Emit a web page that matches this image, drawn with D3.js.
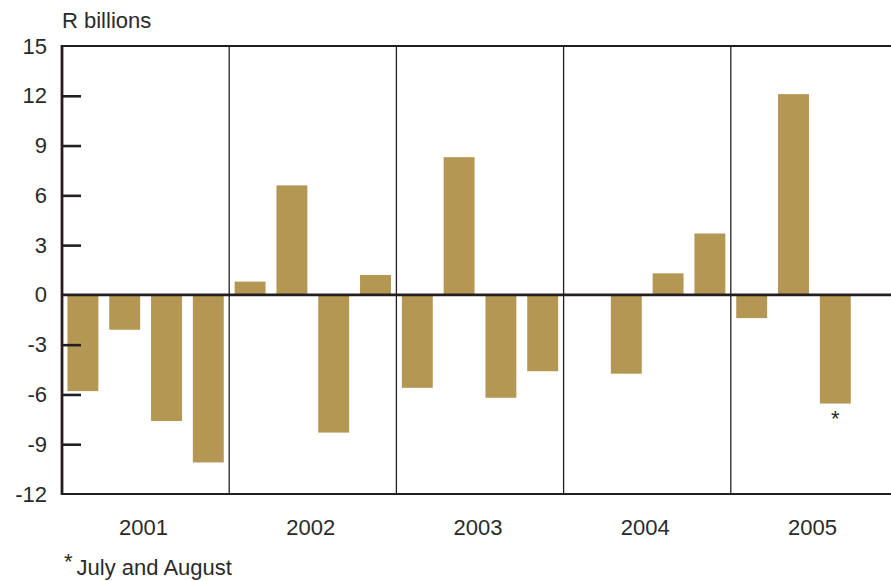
<!DOCTYPE html>
<html><head><meta charset="utf-8">
<script src="https://cdn.jsdelivr.net/npm/d3@7"></script>
<style>
body{margin:0;background:#fff;}
text{font-family:"Liberation Sans",Arial,sans-serif;fill:#2a2a2a;}
</style></head>
<body><svg id="c" width="891" height="581"></svg>
<script>
const years = ["2001","2002","2003","2004","2005"];
const quarters = ["Q1","Q2","Q3","Q4"];
const values = [
  [-5.8, -2.1, -7.6, -10.1],
  [0.8, 6.6, -8.3, 1.2],
  [-5.6, 8.3, -6.2, -4.6],
  [0.05, -4.75, 1.3, 3.7],
  [-1.4, 12.1, -6.55, null]
];
const yTicks = [15, 12, 9, 6, 3, 0, -3, -6, -9, -12];
const yLabel = "R billions";
const footnote = "July and August";
const markedBar = {year: "2005", quarter: "Q3"};

const FS = 22;
const svg = d3.select("#c");
const L = 62, R = 898, T = 46, B = 494;
const y = d3.scaleLinear().domain([-12, 15]).range([B, T]);
const xYear = d3.scaleBand().domain(years).range([L, R]).padding(0);
const xQ = d3.scaleBand().domain(quarters).range([0, xYear.bandwidth()]).paddingInner(0.26).paddingOuter(0.13);

const data = [];
years.forEach((yr, i) => quarters.forEach((q, j) => {
  if (values[i][j] !== null) data.push({yr, q, v: values[i][j]});
}));

// bars
svg.append("g").selectAll("rect").data(data).join("rect")
  .attr("x", d => xYear(d.yr) + xQ(d.q))
  .attr("width", xQ.bandwidth())
  .attr("y", d => y(Math.max(0, d.v)))
  .attr("height", d => Math.abs(y(d.v) - y(0)))
  .attr("fill", "#b59754");

// year dividers
svg.append("g").selectAll("line").data(years.slice(1)).join("line")
  .attr("x1", d => xYear(d)).attr("x2", d => xYear(d))
  .attr("y1", T).attr("y2", B)
  .attr("stroke", "#231f20").attr("stroke-width", 1.3);

// frame top/bottom
svg.append("line").attr("x1", L).attr("x2", 891).attr("y1", T).attr("y2", T)
  .attr("stroke", "#231f20").attr("stroke-width", 2);
svg.append("line").attr("x1", L).attr("x2", 891).attr("y1", B).attr("y2", B)
  .attr("stroke", "#231f20").attr("stroke-width", 2);
// zero line
svg.append("line").attr("x1", L).attr("x2", 891).attr("y1", y(0)).attr("y2", y(0))
  .attr("stroke", "#231f20").attr("stroke-width", 2.6);

// y axis
const yAxis = d3.axisLeft(y).tickValues(yTicks).tickSize(-19).tickPadding(15).tickFormat(d => String(d));
const ga = svg.append("g").attr("transform", `translate(${L},0)`).call(yAxis);
ga.select(".domain").remove();
ga.selectAll(".tick line").attr("stroke", "#231f20").attr("stroke-width", 2.6);
ga.selectAll(".tick").filter(d => d === 15 || d === -12 || d === 0).select("line").remove();
ga.selectAll(".tick text").attr("font-size", FS).attr("font-family", "Liberation Sans, Arial, sans-serif").attr("fill", "#2a2a2a");
svg.append("line").attr("x1", L).attr("x2", L).attr("y1", T - 1).attr("y2", B + 1)
  .attr("stroke", "#231f20").attr("stroke-width", 2.8);

// y label
svg.append("text").attr("x", L).attr("y", 28).attr("font-size", FS).text(yLabel);

// year labels
svg.append("g").selectAll("text").data(years).join("text")
  .attr("x", d => xYear(d) + xYear.bandwidth() / 2 - 2)
  .attr("y", 535).attr("text-anchor", "middle").attr("font-size", FS).text(d => d);

// asterisk under marked bar
const mv = values[years.indexOf(markedBar.year)][quarters.indexOf(markedBar.quarter)];
svg.append("text")
  .attr("x", xYear(markedBar.year) + xQ(markedBar.quarter) + xQ.bandwidth() / 2)
  .attr("y", y(mv) + 22).attr("text-anchor", "middle").attr("font-size", FS).text("*");

// footnote
svg.append("text").attr("x", 64).attr("y", 575).attr("font-size", FS)
  .call(t => {
    t.append("tspan").attr("font-size", FS).attr("dy", -6).text("*");
    t.append("tspan").attr("dy", 6).attr("dx", 4).text(footnote);
  });
</script></body></html>
